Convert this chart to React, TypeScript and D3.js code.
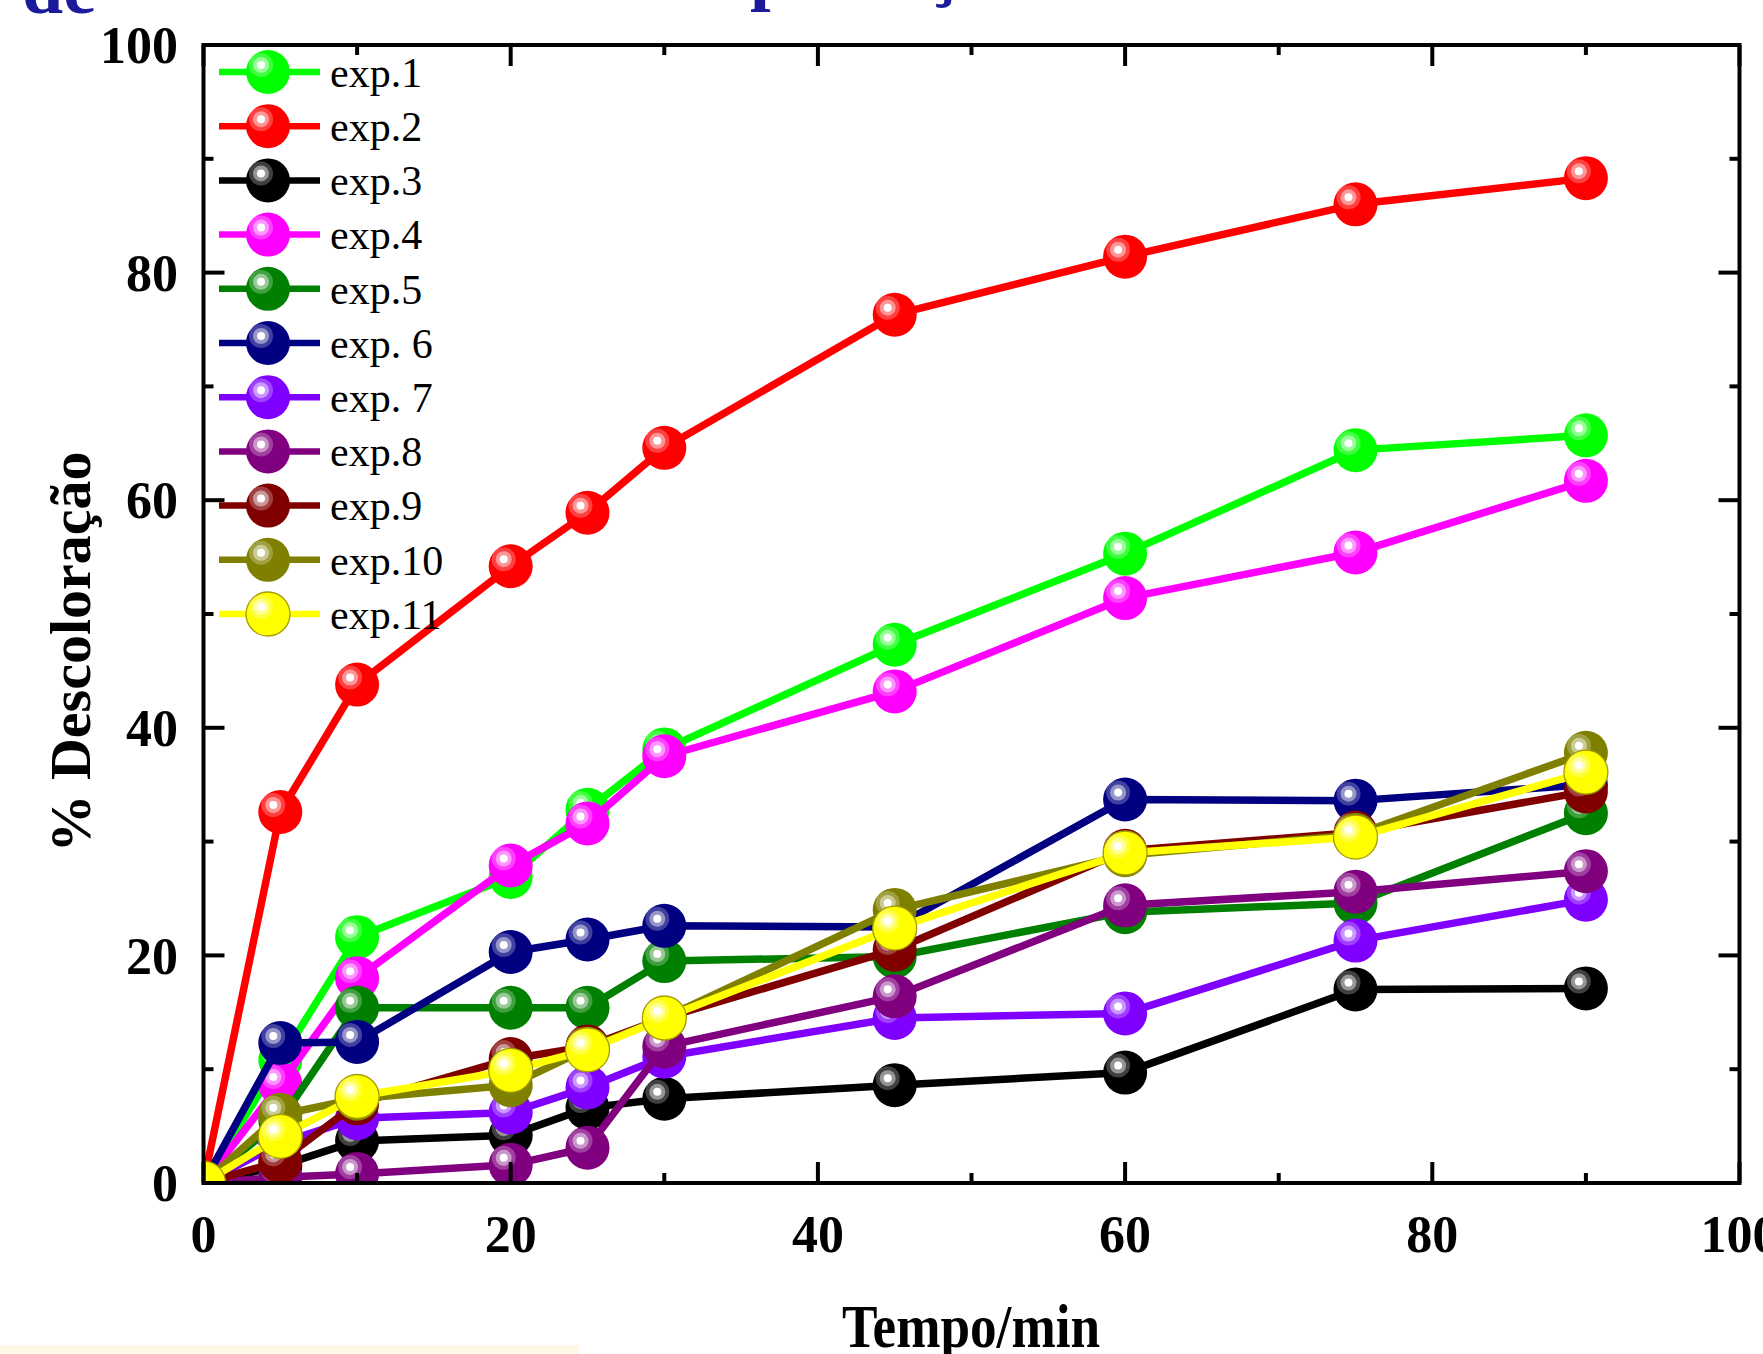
import React from 'react';
import * as d3 from 'd3';

// time points (min)
const times = [0, 5, 10, 20, 25, 30, 45, 60, 75, 90];

// % descoloração per experiment
const exp1 = [0, 10.8, 21.6, 26.9, 32.8, 38.1, 47.3, 55.3, 64.4, 65.7];
const exp2 = [0, 32.6, 43.8, 54.2, 58.9, 64.6, 76.3, 81.4, 86.0, 88.3];
const exp3 = [0, 1.5, 3.7, 4.2, 6.6, 7.4, 8.6, 9.7, 17.0, 17.1];
const exp4 = [0, 8.7, 18.0, 27.9, 31.6, 37.5, 43.2, 51.4, 55.4, 61.7];
const exp5 = [0, 5.5, 15.4, 15.4, 15.4, 19.5, 19.9, 23.8, 24.6, 32.5];
const exp6 = [0, 12.3, 12.4, 20.3, 21.4, 22.6, 22.5, 33.7, 33.6, 35.0];
const exp7 = [0, 3.5, 5.7, 6.2, 8.4, 11.1, 14.5, 14.9, 21.3, 24.9];
const exp8 = [0, 0.5, 0.8, 1.6, 3.1, 12.0, 16.4, 24.4, 25.6, 27.4];
const exp9 = [0, 1.9, 7.0, 10.9, 12.0, 14.5, 20.5, 29.2, 30.8, 34.4];
const exp10 = [0, 6.0, 7.4, 8.6, 11.8, 14.5, 24.0, 28.8, 30.6, 37.8];
const exp11 = [0, 4.1, 7.6, 9.9, 11.7, 14.5, 22.4, 29.0, 30.4, 36.1];

const seriesNames = ['exp.1', 'exp.2', 'exp.3', 'exp.4', 'exp.5', 'exp. 6', 'exp. 7', 'exp.8', 'exp.9', 'exp.10', 'exp.11'];
const seriesColors = ['#00ff00', '#ff0000', '#000000', '#ff00ff', '#008000', '#000080', '#8000ff', '#800080', '#800000', '#808000', '#ffff00'];
const seriesValues = [exp1, exp2, exp3, exp4, exp5, exp6, exp7, exp8, exp9, exp10, exp11];

const xMajor = [0, 20, 40, 60, 80, 100];
const xMinor = [10, 30, 50, 70, 90];
const yMajor = [0, 20, 40, 60, 80, 100];
const yMinor = [10, 30, 50, 70, 90];

const W = 1763;
const H = 1354;
const left = 203.5;
const right = 1739.5;
const top = 45;
const bottom = 1183;
const serif = '"Liberation Serif", "Times New Roman", serif';

const Ball = ({ cx, cy, color }: { cx: number; cy: number; color: string }) => (
  <g>
    <circle cx={cx} cy={cy} r={22} fill={color}
      stroke={color === '#ffff00' ? '#a49c00' : 'none'} strokeWidth={1.3} />
    <circle cx={cx - 7} cy={cy - 7} r={12} fill="#fff" opacity={0.25} />
    <circle cx={cx - 7} cy={cy - 7} r={8} fill="#fff" opacity={0.45} />
    <circle cx={cx - 7} cy={cy - 7} r={4} fill="#fff" />
  </g>
);

export default function App() {
  const x = d3.scaleLinear().domain([0, 100]).range([left, right]);
  const y = d3.scaleLinear().domain([0, 100]).range([bottom, top]);

  const line = d3.line<[number, number]>()
    .x(d => x(d[0]))
    .y(d => y(d[1]));

  const majorLen = 21;
  const minorLen = 10;

  return (
    <svg width={W} height={H} style={{ position: 'absolute', left: 0, top: 0, display: 'block', background: '#fff' }}>
      <defs>
        <clipPath id="plot-clip">
          <rect x={left} y={top} width={right - left} height={bottom - top} />
        </clipPath>
      </defs>

      {/* title fragments, cut off at the top edge as in the source */}
      <g fill="#1a1a9a" fontFamily={serif} fontWeight="bold" fontSize={74}>
        <text x={22} y={13}>de</text>
        <text x={750} y={-4}>p</text>
        <text x={926} y={-7}>ç</text>
      </g>
      <rect x={0} y={1345} width={579} height={9} fill="#fff8e6" />

      {/* data */}
      <g clipPath="url(#plot-clip)">
        {seriesValues.map((vals, i) => {
          const pts = times.map((t, j) => [t, vals[j]] as [number, number]);
          return (
            <g key={seriesNames[i]}>
              <path d={line(pts) || ''} fill="none" stroke={seriesColors[i]} strokeWidth={7.5} strokeLinejoin="round" />
              {pts.map((p, j) => (
                <Ball key={j} cx={x(p[0])} cy={y(p[1])} color={seriesColors[i]} />
              ))}
            </g>
          );
        })}
      </g>

      {/* frame and ticks */}
      <g stroke="#000" strokeWidth={4}>
        <rect x={left} y={top} width={right - left} height={bottom - top} fill="none" />
        {xMajor.map(t => (
          <g key={'xM' + t}>
            <line x1={x(t)} x2={x(t)} y1={bottom} y2={bottom - majorLen} />
            <line x1={x(t)} x2={x(t)} y1={top} y2={top + majorLen} />
          </g>
        ))}
        {xMinor.map(t => (
          <g key={'xm' + t}>
            <line x1={x(t)} x2={x(t)} y1={bottom} y2={bottom - minorLen} />
            <line x1={x(t)} x2={x(t)} y1={top} y2={top + minorLen} />
          </g>
        ))}
        {yMajor.map(t => (
          <g key={'yM' + t}>
            <line x1={left} x2={left + majorLen} y1={y(t)} y2={y(t)} />
            <line x1={right} x2={right - majorLen} y1={y(t)} y2={y(t)} />
          </g>
        ))}
        {yMinor.map(t => (
          <g key={'ym' + t}>
            <line x1={left} x2={left + minorLen} y1={y(t)} y2={y(t)} />
            <line x1={right} x2={right - minorLen} y1={y(t)} y2={y(t)} />
          </g>
        ))}
      </g>

      {/* tick labels */}
      <g fontFamily={serif} fontWeight="bold" fontSize={52} fill="#000">
        {xMajor.map(t => (
          <text key={'xl' + t} x={x(t)} y={1252} textAnchor="middle">{t}</text>
        ))}
        {yMajor.map(t => (
          <text key={'yl' + t} x={178} y={y(t)} dy="0.35em" textAnchor="end">{t}</text>
        ))}
      </g>

      {/* axis titles */}
      <text x={971} y={1347} textAnchor="middle" fontFamily={serif} fontWeight="bold" fontSize={62}
        textLength={258} lengthAdjust="spacingAndGlyphs">Tempo/min</text>
      <text transform="translate(90,652) rotate(-90)" textAnchor="middle" fontFamily={serif}
        fontWeight="bold" fontSize={58}>% Descoloração</text>

      {/* legend */}
      <g>
        {seriesNames.map((name, i) => {
          const ly = 72 + i * 54.2;
          return (
            <g key={'lg' + name}>
              <line x1={219} x2={320} y1={ly} y2={ly} stroke={seriesColors[i]} strokeWidth={6.5} />
              <Ball cx={268} cy={ly} color={seriesColors[i]} />
              <text x={330} y={ly} dy="0.35em" fontFamily={serif} fontSize={42} fill="#000">{name}</text>
            </g>
          );
        })}
      </g>
    </svg>
  );
}
